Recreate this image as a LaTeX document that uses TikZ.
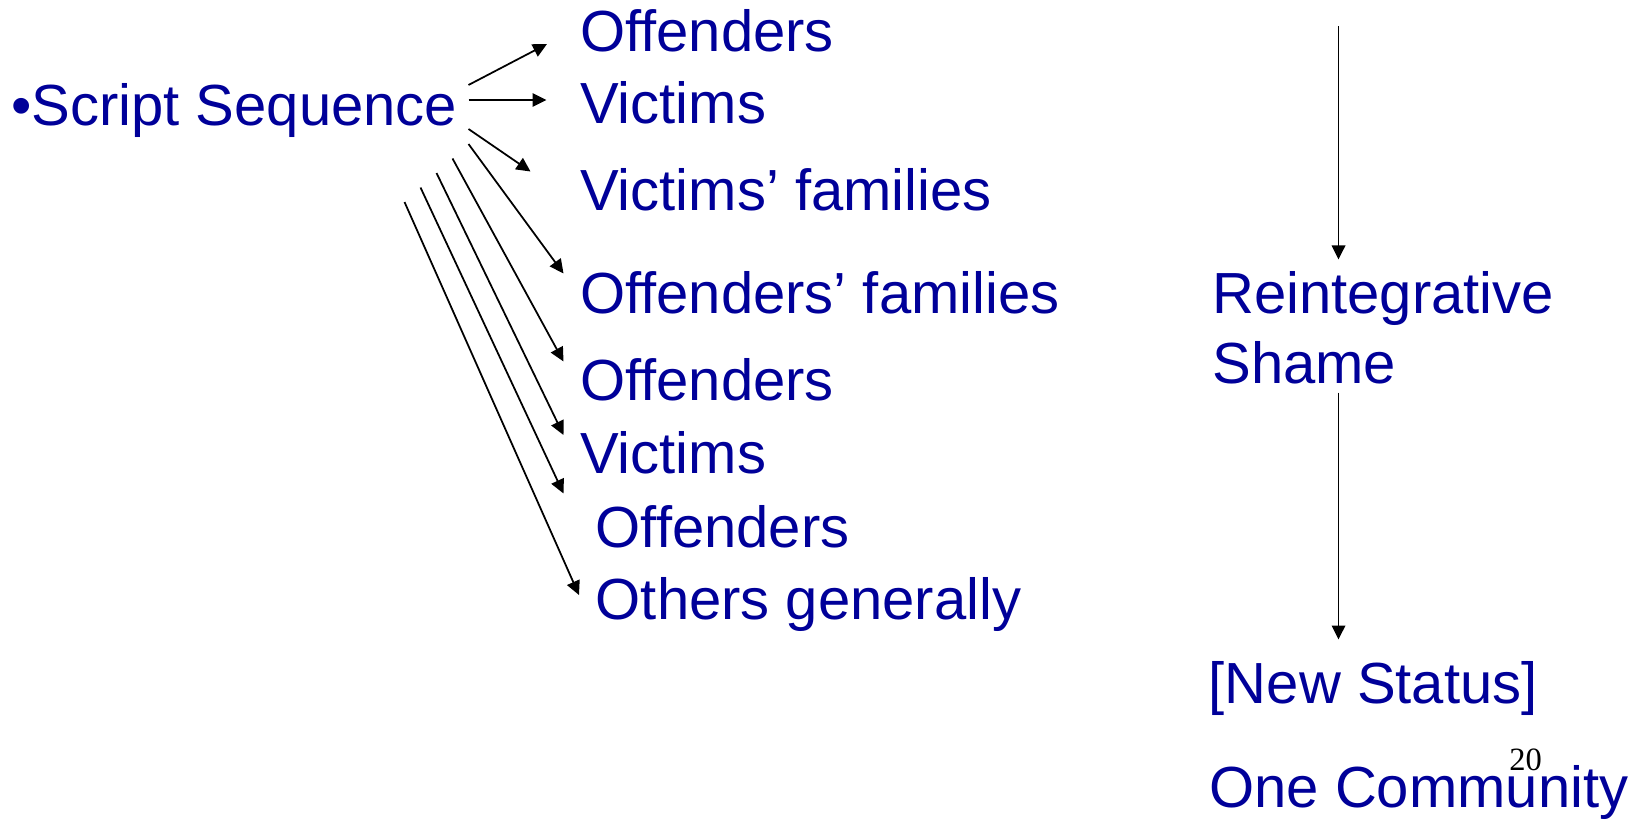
\documentclass[tikz,border=0pt]{standalone}
\usepackage{fontspec}
\setmainfont{Liberation Sans}
\newfontfamily\pagefont{Liberation Serif}
\usepackage{xcolor}
\usetikzlibrary{positioning}
\usetikzlibrary{arrows.meta}
\definecolor{slideblue}{RGB}{0,0,153}
\def\thickness{1pt}
\tikzset{
item/.style={inner sep=0pt, anchor=base west, text=slideblue,
	font=\fontsize{33}{40}\selectfont},
fan/.style={line width=\thickness, -{Triangle[length=0.28cm,width=0.27cm]}},
pagenum/.style={inner sep=0pt, anchor=base west, font=\pagefont\fontsize{18.5}{20}\selectfont},
}

\begin{document}
\begin{tikzpicture}
\useasboundingbox (0,0) rectangle (33.02,-16.4);
%Place the nodes
\node[item] (script) at (0.22,-2.52) {•Script Sequence};

\foreach \n/\x/\y/\t in {1/11.60/-1.04/Offenders, 2/11.60/-2.47/Victims,
	3/11.60/-4.22/Victims’ families, 4/11.60/-6.26/Offenders’ families,
	5/11.60/-8.00/Offenders, 6/11.60/-9.47/Victims,
	7/11.91/-10.94/Offenders, 8/11.91/-12.38/Others generally} {
	\node[item] (t\n) at (\x,\y) {\t};
}

% base of a two line node sits on its last line
\node[item, align=left] (shame) at (24.24,-7.67) {Reintegrative\\Shame};
\node[item] (status) at (24.17,-14.07) {[New Status]};
\node[item] (community) at (24.18,-16.15) {One Community};

%Fan out of the script
\foreach \i/\sx/\sy/\dx/\dy in {1/9.37/-1.70/-0.66/0.16, 2/9.37/-2.00/-0.67/0.47,
	3/9.37/-2.58/-0.99/0.79, 4/9.37/-2.88/-0.33/0.79,
	5/9.05/-3.17/-0.33/0.77, 6/8.73/-3.46/-0.33/0.77,
	7/8.41/-3.75/-0.64/1.07, 8/8.09/-4.04/-0.33/0.48} {
	\coordinate (s\i) at (\sx,\sy);
	\draw[fan] (s\i) -- ([shift={(\dx,\dy)}]t\i.base west);
}

%Right column
\coordinate (a1) at (26.77,-0.53);
\coordinate (b1) at (26.77,-5.19);
\coordinate (a2) at (26.77,-7.85);
\coordinate (b2) at (26.77,-12.79);
\draw[fan] (a1) to (b1);
\draw[fan] (a2) to (b2);

\node[pagenum] (page) at (30.18,-15.40) {20};
\end{tikzpicture}
\end{document}
